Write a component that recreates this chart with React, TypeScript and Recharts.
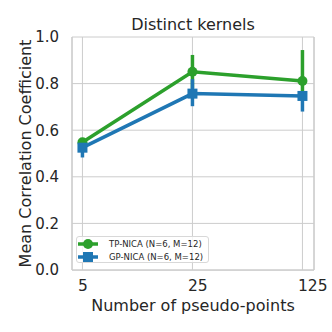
import { LineChart, Line, XAxis, YAxis, CartesianGrid, ErrorBar, ReferenceLine } from 'recharts'

const categories = ['5', '25', '125']
const tpMean = [0.548, 0.851, 0.811]
const tpErr = [[0.012, 0.012], [0.072, 0.072], [0.08, 0.133]]
const gpMean = [0.525, 0.757, 0.747]
const gpErr = [[0.042, 0.02], [0.054, 0.062], [0.067, 0.015]]
const seriesNames = ['TP-NICA (N=6, M=12)', 'GP-NICA (N=6, M=12)']
const yTicks = [0, 0.2, 0.4, 0.6, 0.8, 1.0]

const GREEN = '#2ca02c'
const BLUE = '#1f77b4'
const INK = '#262626'
const FONT = '"DejaVu Sans", sans-serif'

const data = categories.map((c, i) => ({
  idx: i,
  tp: tpMean[i],
  tpErr: tpErr[i],
  gp: gpMean[i],
  gpErr: gpErr[i],
}))

const SquareDot = (props: any) => {
  const { cx, cy } = props
  if (cx == null || cy == null) return null
  return <rect x={cx - 5} y={cy - 5} width={10} height={10} fill={BLUE} />
}

const CircleDot = (props: any) => {
  const { cx, cy } = props
  if (cx == null || cy == null) return null
  return <circle cx={cx} cy={cy} r={5} fill={GREEN} />
}

// x tick labels in the original sit left-aligned, starting just before the gridline
const XTick = (props: any) => {
  const { x, y, payload } = props
  return (
    <text x={x - 4.5} y={y} dy="0.71em" textAnchor="start" fontSize={15.5} fill={INK} fontFamily={FONT}>
      {categories[payload.value]}
    </text>
  )
}

function LegendBox() {
  const rows = [
    { name: seriesNames[0], color: GREEN, square: false },
    { name: seriesNames[1], color: BLUE, square: true },
  ]
  return (
    <div
      style={{
        position: 'absolute',
        left: 76,
        top: 236,
        width: 133,
        height: 27,
        background: 'rgba(255,255,255,0.8)',
        border: '1px solid #d8d8d8',
        borderRadius: 3,
        fontFamily: FONT,
        fontSize: 8.5,
        color: INK,
        padding: '1px 0 0 0',
        boxSizing: 'border-box',
      }}
    >
      {rows.map((r) => (
        <div key={r.name} style={{ display: 'flex', alignItems: 'center', height: 12.5 }}>
          <svg width={26} height={12} style={{ marginLeft: 0, marginRight: 2 }}>
            <line x1={1} y1={6} x2={21} y2={6} stroke={r.color} strokeWidth={3.5} />
            {r.square ? (
              <rect x={6} y={1} width={10} height={10} fill={r.color} />
            ) : (
              <circle cx={11} cy={6} r={5} fill={r.color} />
            )}
          </svg>
          <span style={{ whiteSpace: 'nowrap', marginLeft: 4 }}>{r.name}</span>
        </div>
      ))}
    </div>
  )
}

export default function App() {
  return (
    <div style={{ position: 'absolute', left: 0, top: 0, width: 332, height: 332, background: '#fff' }}>
      <div
        style={{
          position: 'absolute',
          left: 72,
          width: 242,
          top: 15,
          lineHeight: '20px',
          textAlign: 'center',
          fontFamily: FONT,
          fontSize: 16,
          color: INK,
        }}
      >
        Distinct kernels
      </div>
      <LineChart width={332} height={332} data={data} margin={{ top: 37, right: 18, left: 0, bottom: 0 }}>
        <CartesianGrid stroke="#cccccc" strokeWidth={1} />
        <XAxis
          dataKey="idx"
          type="number"
          domain={[-0.095, 2.105]}
          allowDataOverflow
          ticks={[0, 1, 2]}
          tick={<XTick />}
          tickLine={false}
          axisLine={{ stroke: '#cccccc', strokeWidth: 1.25 }}
          tickMargin={4}
          height={62}
          label={{ value: 'Number of pseudo-points', position: 'insideBottom', offset: 21, style: { fontSize: 16, fill: INK, fontFamily: FONT } }}
        />
        <YAxis
          type="number"
          domain={[0, 1]}
          ticks={yTicks}
          tickFormatter={(v: number) => v.toFixed(1)}
          tickLine={false}
          axisLine={{ stroke: '#cccccc', strokeWidth: 1.25 }}
          tick={{ fontSize: 15, fill: INK, fontFamily: FONT }}
          tickMargin={7}
          width={72}
          label={{ value: 'Mean Correlation Coefficient', angle: -90, position: 'insideLeft', offset: 25, style: { textAnchor: 'middle', fontSize: 16, fill: INK, fontFamily: FONT } }}
        />
        <ReferenceLine x={2.105} stroke="#cccccc" strokeWidth={1.25} ifOverflow="visible" />
        <Line
          dataKey="tp"
          stroke={GREEN}
          strokeWidth={3.5}
          dot={<CircleDot />}
          activeDot={false}
          isAnimationActive={false}
        >
          <ErrorBar dataKey="tpErr" direction="y" width={0} stroke={GREEN} strokeWidth={3.5} isAnimationActive={false} />
        </Line>
        <Line
          dataKey="gp"
          stroke={BLUE}
          strokeWidth={3.5}
          dot={<SquareDot />}
          activeDot={false}
          isAnimationActive={false}
        >
          <ErrorBar dataKey="gpErr" direction="y" width={0} stroke={BLUE} strokeWidth={3.5} isAnimationActive={false} />
        </Line>
      </LineChart>
      <LegendBox />
    </div>
  )
}
